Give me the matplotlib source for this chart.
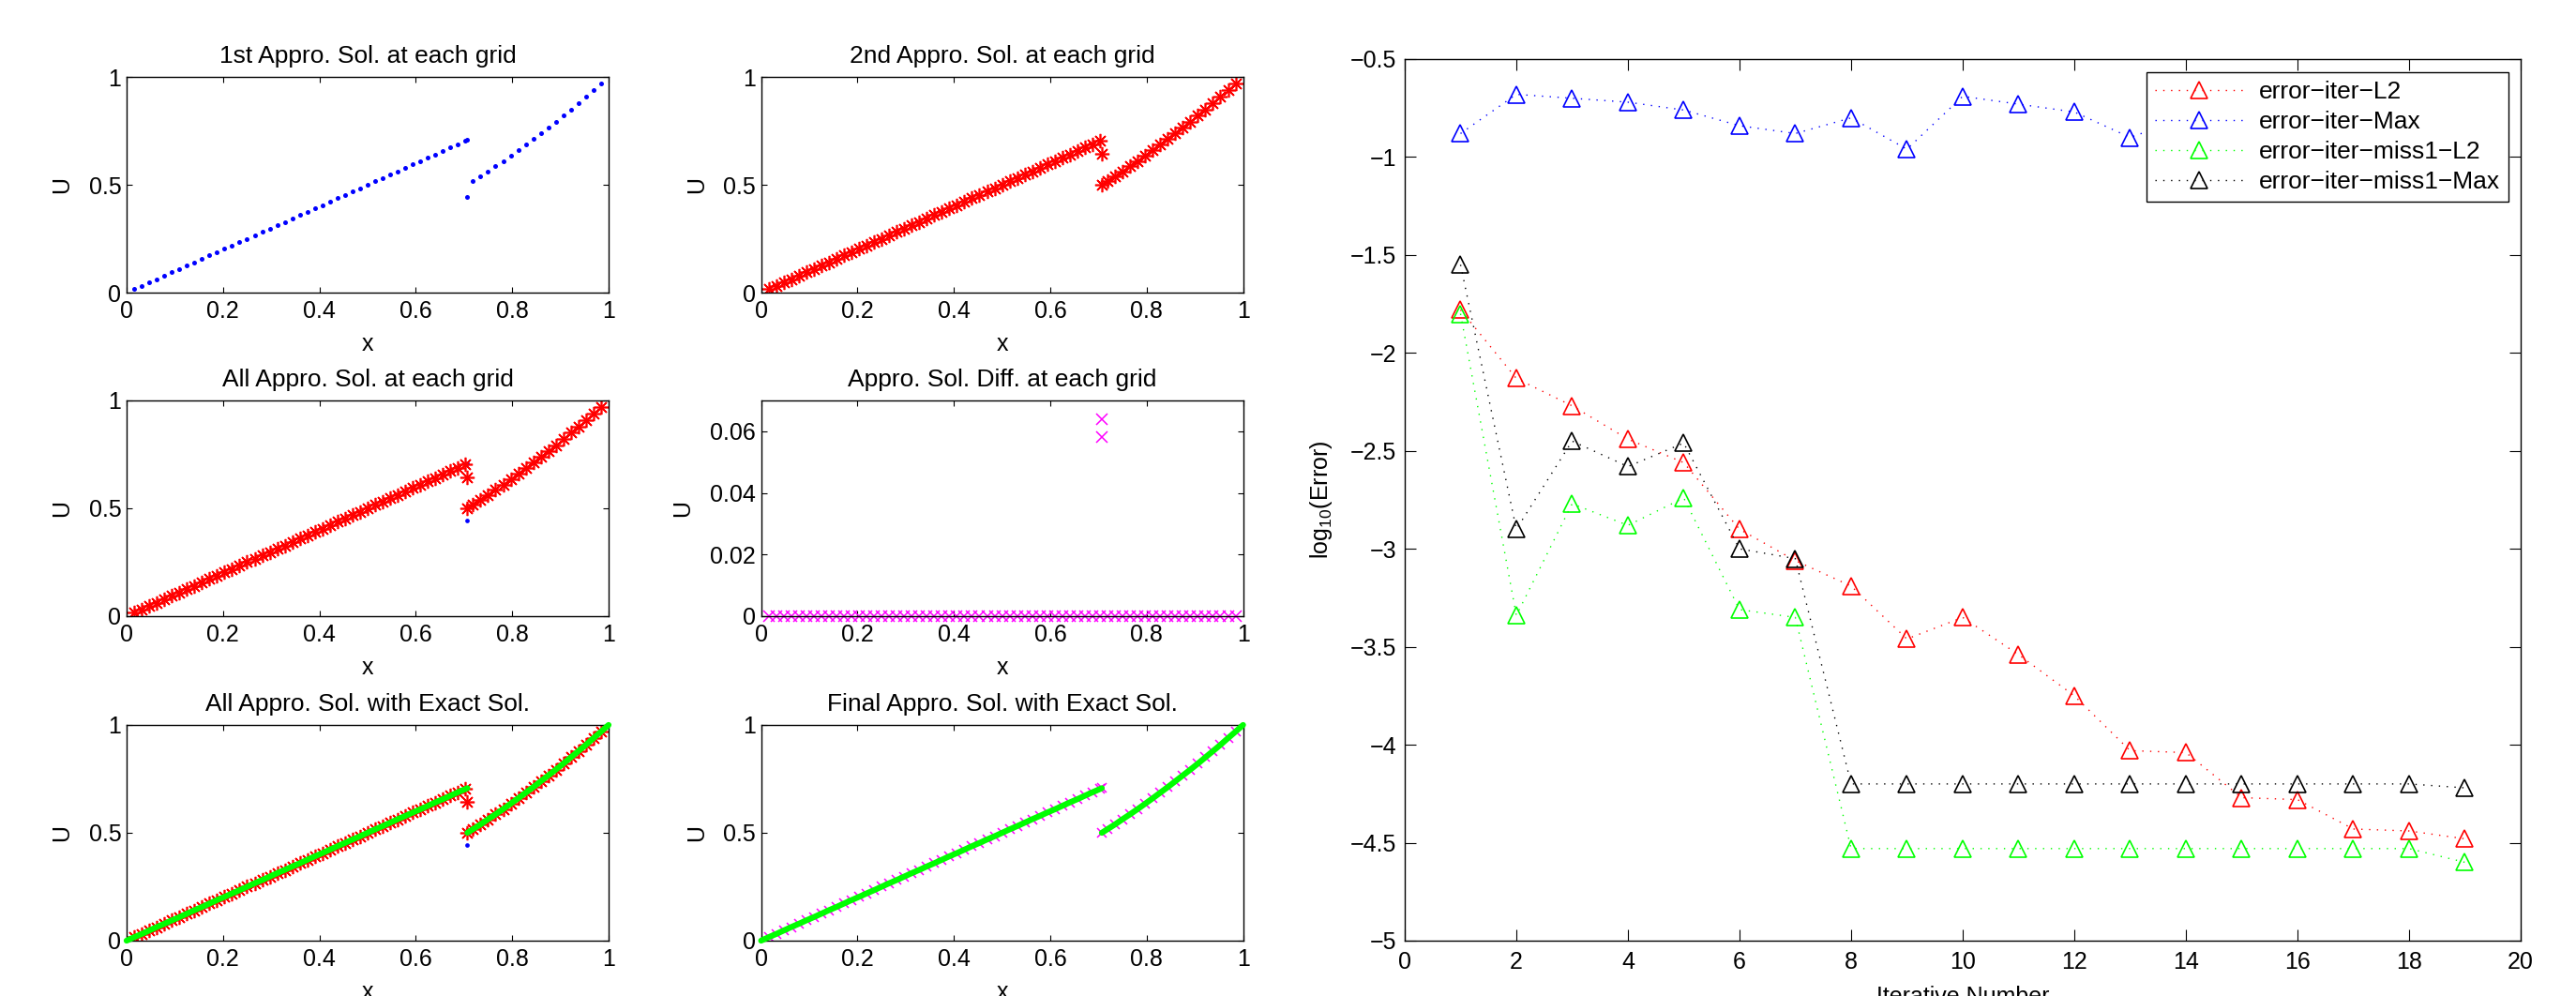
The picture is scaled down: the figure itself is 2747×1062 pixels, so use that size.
import numpy as np
import matplotlib
matplotlib.use('Agg')
import matplotlib.pyplot as plt
from matplotlib.ticker import FuncFormatter

plt.rcParams['font.family'] = ['Liberation Sans', 'DejaVu Sans']
plt.rcParams['mathtext.default'] = 'regular'

# grid points of the 1D mesh (h = 1/64)
x_grid = [0.0156, 0.0313, 0.0469, 0.0625, 0.0781, 0.0938, 0.1094, 0.125, 0.1406,
          0.1563, 0.1719, 0.1875, 0.2031, 0.2188, 0.2344, 0.25, 0.2656, 0.2813,
          0.2969, 0.3125, 0.3281, 0.3438, 0.3594, 0.375, 0.3906, 0.4063, 0.4219,
          0.4375, 0.4531, 0.4688, 0.4844, 0.5, 0.5156, 0.5313, 0.5469, 0.5625,
          0.5781, 0.5938, 0.6094, 0.625, 0.6406, 0.6563, 0.6719, 0.6875, 0.7031,
          0.7188, 0.7344, 0.75, 0.7656, 0.7813, 0.7969, 0.8125, 0.8281, 0.8438,
          0.8594, 0.875, 0.8906, 0.9063, 0.9219, 0.9375, 0.9531, 0.9688, 0.9844]
# solution values at the grid points
u_grid = [0.016, 0.031, 0.047, 0.063, 0.078, 0.094, 0.109, 0.125, 0.141,
          0.156, 0.172, 0.188, 0.203, 0.219, 0.234, 0.25, 0.266, 0.281,
          0.297, 0.313, 0.328, 0.344, 0.359, 0.375, 0.391, 0.406, 0.422,
          0.438, 0.453, 0.469, 0.484, 0.5, 0.516, 0.531, 0.547, 0.563,
          0.578, 0.594, 0.609, 0.625, 0.641, 0.656, 0.672, 0.688, 0.703,
          0.517, 0.539, 0.563, 0.586, 0.610, 0.635, 0.660, 0.686, 0.712,
          0.739, 0.766, 0.793, 0.821, 0.850, 0.879, 0.908, 0.939, 0.969]
n_left = 45
x_int = 0.707               # interface
sol1_int = [0.707, 0.442]   # 1st approx, left / right value at interface
sol2_int = [0.643, 0.500]   # 2nd approx
final_int = [0.707, 0.500]  # final approx
exact_int = [0.707, 0.500]
x_ends = [0.0, 1.0]
u_ends = [0.0, 1.0]

iters = [1, 2, 3, 4, 5, 6, 7, 8, 9, 10, 11, 12, 13, 14, 15, 16, 17, 18, 19]
err_L2 = [-1.78, -2.13, -2.27, -2.44, -2.56, -2.90, -3.06, -3.19, -3.46, -3.35,
          -3.54, -3.75, -4.03, -4.04, -4.27, -4.28, -4.43, -4.44, -4.48]
err_Max = [-0.88, -0.68, -0.70, -0.72, -0.76, -0.84, -0.88, -0.80, -0.96, -0.69,
           -0.73, -0.77, -0.90, -0.80, -0.85, -0.82, -0.88, -0.84, -0.86]
err_m1_L2 = [-1.80, -3.34, -2.77, -2.88, -2.74, -3.31, -3.35, -4.53, -4.53, -4.53,
             -4.53, -4.53, -4.53, -4.53, -4.53, -4.53, -4.53, -4.53, -4.60]
err_m1_Max = [-1.55, -2.90, -2.45, -2.58, -2.46, -3.00, -3.05, -4.20, -4.20, -4.20,
              -4.20, -4.20, -4.20, -4.20, -4.20, -4.20, -4.20, -4.20, -4.22]

FS = 18
x_pts = np.array(x_grid + [x_int, x_int])
sol1 = np.array(u_grid + sol1_int)
sol2 = np.array(u_grid + sol2_int)
final = np.array(u_grid + final_int)
diff = np.abs(sol2 - sol1)

ex_lx = [x_ends[0]] + x_grid[:n_left] + [x_int]
ex_lu = [u_ends[0]] + u_grid[:n_left] + [exact_int[0]]
ex_rx = [x_int] + x_grid[n_left:] + [x_ends[1]]
ex_ru = [exact_int[1]] + u_grid[n_left:] + [u_ends[1]]

star = (8, 2, 0)
fmt = FuncFormatter(lambda v, p: ('%g' % v).replace('-', '\u2212'))

fig = plt.figure(figsize=(27.47, 10.62), dpi=100)
cols = [0.04914, 0.29545]
rows = [0.70621, 0.38136, 0.05556]
W, H = 0.18711, 0.21657
axs = [fig.add_axes([cols[j], rows[i], W, H]) for i in range(3) for j in range(2)]


def green_exact(ax):
    for xs, us in [(ex_lx, ex_lu), (ex_rx, ex_ru)]:
        ax.plot(xs, us, '-', color=(0, 1, 0), lw=4.5,
                solid_capstyle='round', clip_on=False, zorder=5)


ax = axs[0]
ax.plot(x_pts, sol1, 'o', color='blue', ms=3.6, mec='none')
ax.set_title('1st Appro. Sol. at each grid', fontsize=FS + 1, pad=11)

ax = axs[1]
ax.plot(x_pts, sol2, ls='none', marker=star, color='red', ms=11, mew=1.2)
ax.set_title('2nd Appro. Sol. at each grid', fontsize=FS + 1, pad=11)

ax = axs[2]
ax.plot(x_pts, sol1, 'o', color='blue', ms=3.4, mec='none')
ax.plot(x_pts, sol2, ls='none', marker=star, color='red', ms=11, mew=1.2)
ax.set_title('All Appro. Sol. at each grid', fontsize=FS + 1, pad=11)

ax = axs[3]
ax.plot(x_pts, diff, 'x', color='magenta', ms=8, mew=1.1, clip_on=False)
ax.set_title('Appro. Sol. Diff. at each grid', fontsize=FS + 1, pad=11)

ax = axs[4]
ax.plot(x_pts, sol1, 'o', color='blue', ms=3.4, mec='none')
ax.plot(x_pts, sol2, ls='none', marker=star, color='red', ms=11, mew=1.2)
green_exact(ax)
ax.set_title('All Appro. Sol. with Exact Sol.', fontsize=FS + 1, pad=11)

ax = axs[5]
ax.plot(x_pts, final, 'x', color='magenta', ms=7, mew=1.1)
green_exact(ax)
ax.set_title('Final Appro. Sol. with Exact Sol.', fontsize=FS + 1, pad=11)

for k, ax in enumerate(axs):
    ax.set_xlim(0, 1)
    ax.set_xticks([0, 0.2, 0.4, 0.6, 0.8, 1])
    if k == 3:
        ax.set_ylim(0, 0.07)
        ax.set_yticks([0, 0.02, 0.04, 0.06])
    else:
        ax.set_ylim(0, 1)
        ax.set_yticks([0, 0.5, 1])
    ax.xaxis.set_major_formatter(fmt)
    ax.yaxis.set_major_formatter(fmt)
    ax.tick_params(direction='in', top=True, right=True, length=4.5, width=0.8,
                   labelsize=FS)
    ax.tick_params(axis='x', pad=6)
    ax.tick_params(axis='y', pad=4)
    ax.set_xlabel('x', fontsize=FS, labelpad=8)
    ax.set_ylabel('U', fontsize=FS, labelpad=12)
    for s in ax.spines.values():
        s.set_linewidth(1.0)

# convergence history
ax = fig.add_axes([0.54532, 0.05556, 0.43320, 0.88512])
dot = (0, (1, 5))
ax.plot(iters, err_L2, color='red', ls=dot, lw=1, marker='^', mfc='none',
        ms=12.5, mew=1.2, label='error\u2212iter\u2212L2')
ax.plot(iters, err_Max, color='blue', ls=dot, lw=1, marker='^', mfc='none',
        ms=12.5, mew=1.2, label='error\u2212iter\u2212Max')
ax.plot(iters, err_m1_L2, color=(0, 1, 0), ls=dot, lw=1, marker='^', mfc='none',
        ms=12.5, mew=1.2, label='error\u2212iter\u2212miss1\u2212L2')
ax.plot(iters, err_m1_Max, color='black', ls=dot, lw=1, marker='^', mfc='none',
        ms=12.5, mew=1.2, label='error\u2212iter\u2212miss1\u2212Max')
ax.set_xlim(0, 20)
ax.set_ylim(-5, -0.5)
ax.set_xticks(np.arange(0, 21, 2))
ax.set_yticks(np.arange(-5, -0.49, 0.5))
ax.xaxis.set_major_formatter(fmt)
ax.yaxis.set_major_formatter(fmt)
ax.tick_params(direction='in', top=True, right=True, length=8.5, width=0.8,
               labelsize=FS)
ax.tick_params(axis='x', pad=8)
ax.tick_params(axis='y', pad=6.5)
ax.set_xlabel('Iterative Number', fontsize=FS, labelpad=9)
ax.set_ylabel('log$_{10}$(Error)', fontsize=FS, labelpad=12)
for s in ax.spines.values():
    s.set_linewidth(1.0)
leg = ax.legend(loc='upper right', bbox_to_anchor=(0.98908, 0.98511),
                borderaxespad=0, fontsize=FS + 1, fancybox=False, framealpha=1,
                edgecolor='black', handlelength=3.6, handletextpad=0.6,
                labelspacing=0.3, borderpad=0.35)
leg.get_frame().set_linewidth(1.0)

fig.savefig('out.png', dpi=100)
